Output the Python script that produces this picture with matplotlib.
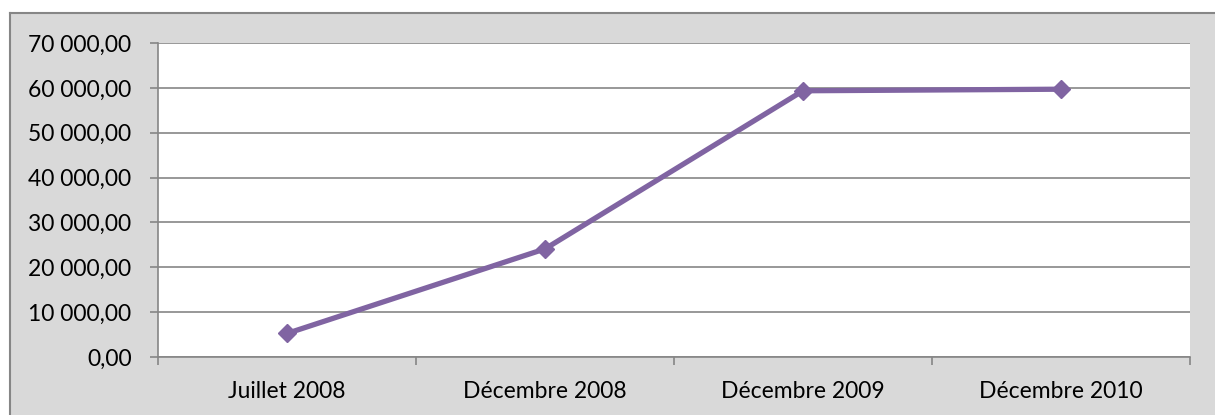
import matplotlib
matplotlib.use("Agg")
import matplotlib.pyplot as plt
from matplotlib.ticker import FuncFormatter, FixedLocator
from matplotlib.patches import Rectangle
from matplotlib.lines import Line2D

categories = ["Juillet 2008", "Décembre 2008", "Décembre 2009", "Décembre 2010"]
values = [5250, 24100, 59350, 59700]
y_ticks = [0, 10000, 20000, 30000, 40000, 50000, 60000, 70000]

plt.rcParams['font.family'] = ['Lato', 'DejaVu Sans']

W, H = 1215, 415
fig = plt.figure(figsize=(W / 100, H / 100), dpi=100, facecolor="white")

# chart area background with border (left/top edges visible)
bx, by = 9.5 / W, 1 - 13.5 / H
bg = Rectangle((bx, 0), 1 - bx, by, transform=fig.transFigure,
               facecolor="#D9D9D9", edgecolor="none", zorder=-5)
fig.patches.append(bg)
fig.lines.append(Line2D([bx, bx], [0, by], transform=fig.transFigure,
                        color="#868686", linewidth=1.5, zorder=-4))
fig.lines.append(Line2D([bx, 1], [by, by], transform=fig.transFigure,
                        color="#868686", linewidth=1.5, zorder=-4))

ax = fig.add_axes([158 / W, 1 - 357 / H, (1190 - 158) / W, (357 - 43) / H])
ax.set_facecolor("white")
ax.set_zorder(1)

x = list(range(len(categories)))
ax.plot(x, values, color="#8064A2", linewidth=3.8, marker="D", markersize=9.5,
        solid_joinstyle="miter", zorder=3, clip_on=False)

ax.set_xlim(-0.5, len(categories) - 0.5)
ax.set_ylim(0, 70000)
ax.set_yticks(y_ticks)
ax.yaxis.set_major_formatter(FuncFormatter(
    lambda v, p: f"{v:,.2f}".replace(",", " ").replace(".", ",")))
ax.grid(axis="y", color="#868686", linewidth=1.2, zorder=1)
ax.set_axisbelow(True)

ax.set_xticks(x)
ax.set_xticklabels(categories)
ax.xaxis.set_minor_locator(FixedLocator([i - 0.5 for i in range(len(categories) + 1)]))
ax.tick_params(axis="x", which="major", length=0, pad=17, labelsize=16.5, labelcolor="black")
ax.tick_params(axis="x", which="minor", length=6, width=1.2, color="#868686")
ax.tick_params(axis="y", length=6, width=1.2, color="#868686", pad=13, labelsize=16.5)

for s in ["top", "right"]:
    ax.spines[s].set_visible(False)
for s in ["left", "bottom"]:
    ax.spines[s].set_color("#868686")
    ax.spines[s].set_linewidth(1.2)

fig.savefig("out.png", dpi=100, facecolor=fig.get_facecolor())
